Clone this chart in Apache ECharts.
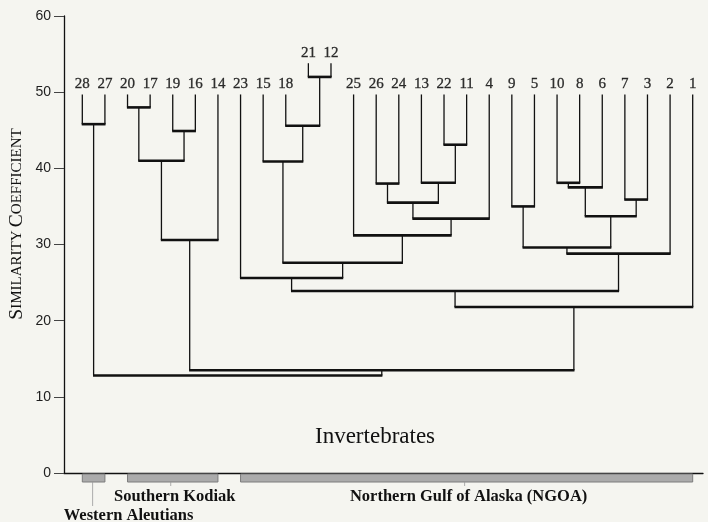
<!DOCTYPE html>
<html><head><meta charset="utf-8">
<script src="https://cdn.jsdelivr.net/npm/echarts@6/dist/echarts.min.js"></script>
<style>html,body{margin:0;padding:0;background:#f5f5f0}#c{width:708px;height:522px}</style>
</head><body><div id="c"></div>
<script>
// Leaves in display order (left to right) and the height at which each leaf line starts
const leafOrder = ['28','27','20','17','19','16','14','23','15','18','21','12','25','26','24','13','22','11','4','9','5','10','8','6','7','3','2','1'];
const leafTop = [49.7,49.7,49.7,49.7,49.7,49.7,49.7,49.7,49.7,49.7,53.8,53.8,49.7,49.7,49.7,49.7,49.7,49.7,49.7,49.7,49.7,49.7,49.7,49.7,49.7,49.7,49.7,49.7];
// Merges: merge i creates node 'M'+(i+1)
const mergeLeft  = ['28','20','19','M2','M4','21','18','15','26','22','13','M9','M12','25','M8','23','9','10','M18','7','M19','M17','M22','M16','M24','M5','M1'];
const mergeRight = ['27','17','16','M3','14','12','M6','M7','24','11','M10','M11','4','M13','M14','M15','5','8','6','3','M20','M21','2','M23','1','M25','M26'];
const mergeHeight = [45.8,48.0,44.9,41.0,30.6,52.0,45.6,40.9,38.0,43.1,38.1,35.5,33.4,31.2,27.6,25.6,35.0,38.1,37.5,35.9,33.7,29.6,28.8,23.9,21.8,13.5,12.8];
const yTicks = [0,10,20,30,40,50,60];
const regionNames = ['Western Aleutians','Southern Kodiak','Northern Gulf of Alaska (NGOA)'];
const regionFirstLeaf = ['28','20','23'];
const regionLastLeaf = ['27','14','1'];
const chartTitle = 'Invertebrates';

// Build node positions in data space (leaf index, height)
const nodes = {};
leafOrder.forEach((l, i) => { nodes[l] = {x: i, h: leafTop[i]}; });
const mergeData = mergeLeft.map((a, i) => {
  const L = nodes[a], R = nodes[mergeRight[i]];
  nodes['M' + (i + 1)] = {x: (L.x + R.x) / 2, h: mergeHeight[i]};
  return [L.x, R.x, L.h, R.h, mergeHeight[i]];
});
const leafData = leafOrder.map((l, i) => [i, leafTop[i], l]);
const regionData = regionNames.map((n, i) => [leafOrder.indexOf(regionFirstLeaf[i]), leafOrder.indexOf(regionLastLeaf[i]), n]);

const ink = '#111';
const chart = echarts.init(document.getElementById('c'));
chart.setOption({
  backgroundColor: '#f5f5f0',
  animation: false,
  title: {
    text: chartTitle, left: 310, top: 420,
    textStyle: {fontFamily: 'Liberation Serif, serif', fontSize: 23, fontWeight: 'normal', color: ink}
  },
  grid: {left: 64, right: 5, top: 16, bottom: 49, containLabel: false},
  xAxis: {
    type: 'value', min: -0.81, max: 27.456,
    axisLine: {show: true, onZero: false, lineStyle: {color: ink, width: 1.3}},
    axisTick: {show: false}, axisLabel: {show: false}, splitLine: {show: false}
  },
  yAxis: {
    type: 'value', min: yTicks[0], max: yTicks[yTicks.length - 1], interval: 10,
    axisLine: {show: true, onZero: false, lineStyle: {color: ink, width: 1.3}},
    axisTick: {show: true, length: 10, lineStyle: {color: '#444', width: 1}},
    axisLabel: {margin: 13, fontFamily: 'Liberation Sans, Arial, sans-serif', fontSize: 14, color: '#1e1e1e'},
    splitLine: {show: false}
  },
  graphic: [{
    type: 'text', x: 17, y: 224, rotation: Math.PI / 2,
    style: {
      text: '{a|S}{b|IMILARITY} {a|C}{b|OEFFICIENT}',
      align: 'center', verticalAlign: 'middle', fill: ink,
      rich: {
        a: {fontFamily: 'Liberation Serif, serif', fontSize: 19.5, fill: ink, color: ink},
        b: {fontFamily: 'Liberation Serif, serif', fontSize: 15, fill: ink, color: ink}
      }
    }
  }],
  series: [
    {
      type: 'custom', data: mergeData, encode: {x: [0, 1], y: [2, 3, 4]}, clip: false,
      renderItem: function (params, api) {
        const pl = api.coord([api.value(0), api.value(2)]);
        const pr = api.coord([api.value(1), api.value(3)]);
        const ml = api.coord([api.value(0), api.value(4)]);
        const mr = api.coord([api.value(1), api.value(4)]);
        return {type: 'group', children: [
          {type: 'line', shape: {x1: pl[0], y1: pl[1], x2: ml[0], y2: ml[1]}, style: {stroke: ink, lineWidth: 1.3}},
          {type: 'line', shape: {x1: pr[0], y1: pr[1], x2: mr[0], y2: mr[1]}, style: {stroke: ink, lineWidth: 1.3}},
          {type: 'line', shape: {x1: ml[0] - 0.6, y1: ml[1], x2: mr[0] + 0.6, y2: mr[1]}, style: {stroke: ink, lineWidth: 2.6}}
        ]};
      }
    },
    {
      type: 'scatter', data: leafData, symbolSize: 0, silent: true,
      label: {
        show: true, position: 'top', distance: 3,
        formatter: p => p.value[2],
        fontFamily: 'Liberation Serif, serif', fontSize: 15, color: '#000',
        textBorderColor: '#000', textBorderWidth: 0.3
      }
    },
    {
      type: 'custom', data: regionData, encode: {x: [0, 1]}, clip: false, silent: true,
      renderItem: function (params, api) {
        const a = api.coord([api.value(0), 0]);
        const b = api.coord([api.value(1), 0]);
        const cx = (a[0] + b[0]) / 2;
        const name = regionNames[params.dataIndex];
        const ch = [{type: 'rect', shape: {x: a[0], y: a[1] + 1, width: b[0] - a[0], height: 8},
          style: {fill: '#ababab', stroke: '#7c7c7c', lineWidth: 1}}];
        const font = 'bold 16.5px "Liberation Serif", serif';
        if (params.dataIndex === 0) {
          ch.push({type: 'line', shape: {x1: cx - 1, y1: a[1] + 9, x2: cx - 1, y2: a[1] + 33}, style: {stroke: '#999', lineWidth: 0.8}});
          ch.push({type: 'text', x: cx + 35, y: a[1] + 43, style: {text: name, font: font, fill: ink, align: 'center', verticalAlign: 'middle'}});
        } else {
          ch.push({type: 'line', shape: {x1: cx - 2, y1: a[1] + 9, x2: cx - 2, y2: a[1] + 13}, style: {stroke: '#999', lineWidth: 0.8}});
          ch.push({type: 'text', x: cx + 2, y: a[1] + 24, style: {text: name, font: font, fill: ink, align: 'center', verticalAlign: 'middle'}});
        }
        return {type: 'group', children: ch};
      }
    }
  ]
});
</script></body></html>
